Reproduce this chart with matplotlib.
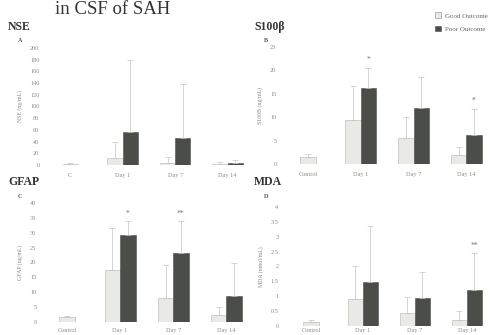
import matplotlib
matplotlib.use('Agg')
import matplotlib.pyplot as plt
from matplotlib.patches import Patch

plt.rcParams['font.family'] = ['Liberation Serif', 'DejaVu Serif']

W, H = 498, 335

days = ['Day 1', 'Day 7', 'Day 14']

# NSE
nse_ctrl, nse_ctrl_sd = 2, 1
nse_good = [12, 3, 2.5]
nse_good_sd = [27, 11, 3]
nse_poor = [56, 46, 3.5]
nse_poor_sd = [124, 92, 5]

# S100b
s100_ctrl, s100_ctrl_sd = 1.5, 0.6
s100_good = [9.5, 5.6, 2.0]
s100_good_sd = [7.2, 4.4, 1.7]
s100_poor = [16.3, 11.9, 6.1]
s100_poor_sd = [4.3, 6.7, 5.7]
s100_stars = {0: '*', 2: '*'}

# GFAP
gfap_ctrl, gfap_ctrl_sd = 1.7, 0.3
gfap_good = [17.5, 8.2, 2.4]
gfap_good_sd = [14.2, 10.8, 2.6]
gfap_poor = [29.4, 23.1, 8.9]
gfap_poor_sd = [4.5, 10.8, 11.0]
gfap_stars = {0: '*', 1: '**'}

# MDA
mda_ctrl, mda_ctrl_sd = 0.15, 0.05
mda_good = [0.91, 0.44, 0.19]
mda_good_sd = [1.1, 0.53, 0.31]
mda_poor = [1.47, 0.94, 1.22]
mda_poor_sd = [1.9, 0.88, 1.22]
mda_stars = {2: '**'}

GOOD = '#e9e9e6'
POOR = '#4b4e48'
EDGE = '#b5b5b0'
ERR = '#c4c4c0'
TXT = '#8a8a86'

fig = plt.figure(figsize=(W / 100, H / 100), dpi=100)


def px_axes(x0, x1, y0, y1):
    # y0 = pixel row of value 0, y1 = pixel row of top tick
    return fig.add_axes([x0 / W, 1 - y0 / H, (x1 - x0) / W, (y0 - y1) / H])


def panel(ax, ctrl, ctrl_sd, good, good_sd, poor, poor_sd, ymax, step,
          ctrl_label, xl, xr, stars, ylabel, fmt, xpad=6):
    w = 0.29
    ax.bar(0, ctrl, w, color=GOOD, edgecolor=EDGE, lw=0.4)
    ax.errorbar(0, ctrl, yerr=[[0], [ctrl_sd]], fmt='none', ecolor=ERR,
                elinewidth=0.5, capsize=2, capthick=0.5)
    xs = [1, 2, 3]
    xg = [x - w / 2 for x in xs]
    xp = [x + w / 2 for x in xs]
    ax.bar(xg, good, w, color=GOOD, edgecolor=EDGE, lw=0.4)
    ax.bar(xp, poor, w, color=POOR, edgecolor=POOR, lw=0.4)
    ax.errorbar(xg, good, yerr=[[0] * 3, good_sd], fmt='none', ecolor=ERR,
                elinewidth=0.5, capsize=2, capthick=0.5)
    ax.errorbar(xp, poor, yerr=[[0] * 3, poor_sd], fmt='none', ecolor=ERR,
                elinewidth=0.5, capsize=2, capthick=0.5)
    for i, s in stars.items():
        ax.text(xp[i], poor[i] + poor_sd[i] + ymax * 0.03, s, ha='center',
                va='bottom', fontsize=5.5, color='#777772')
    ax.set_xlim(xl, xr)
    ax.set_ylim(0, ymax)
    ticks = [step * k for k in range(int(round(ymax / step)) + 1)]
    ax.set_yticks(ticks)
    ax.set_yticklabels([fmt(t) for t in ticks])
    ax.set_xticks([0, 1, 2, 3])
    ax.set_xticklabels([ctrl_label] + days)
    ax.tick_params(length=0, labelsize=4.5, labelcolor=TXT)
    ax.tick_params(axis='x', pad=xpad)
    ax.tick_params(axis='y', pad=4)
    for s in ax.spines.values():
        s.set_visible(False)
    ax.set_ylabel(ylabel, fontsize=4.2, color=TXT, labelpad=5)
    ax.patch.set_alpha(0)


axA = px_axes(45, 245, 165, 48)
panel(axA, nse_ctrl, nse_ctrl_sd, nse_good, nse_good_sd, nse_poor, nse_poor_sd,
      200, 20, 'C', -0.48, 3.33, {}, 'NSE (ng/mL)', lambda t: '%d' % t)

axB = px_axes(282, 498, 164, 47)
panel(axB, s100_ctrl, s100_ctrl_sd, s100_good, s100_good_sd, s100_poor,
      s100_poor_sd, 25, 5, 'Control', -0.49, 3.6, s100_stars, 'S100B (ng/mL)',
      lambda t: '%d' % t)

axC = px_axes(42, 245, 322, 203)
panel(axC, gfap_ctrl, gfap_ctrl_sd, gfap_good, gfap_good_sd, gfap_poor,
      gfap_poor_sd, 40, 5, 'Control', -0.47, 3.35, gfap_stars, 'GFAP (ng/mL)',
      lambda t: '%d' % t, xpad=4)

axD = px_axes(284, 498, 326, 207)
panel(axD, mda_ctrl, mda_ctrl_sd, mda_good, mda_good_sd, mda_poor, mda_poor_sd,
      4, 0.5, 'Control', -0.52, 3.6, mda_stars, 'MDA (nmol/mL)',
      lambda t: ('%g' % t), xpad=1.2)

# headings
fig.text(55 / W, 1 - 10 / H, 'in CSF of SAH', fontsize=13.5, color='#333333',
         va='center', ha='left')
for x, y, name, letter in [(8, 27, 'NSE', 'A'), (254, 27, 'S100β', 'B'),
                           (8, 182, 'GFAP', 'C'), (254, 182, 'MDA', 'D')]:
    fig.text(x / W, 1 - y / H, name, fontsize=8.5, fontweight='bold',
             color='#333333', va='center', ha='left')
    fig.text((x + 10) / W, 1 - (y + 14) / H, letter, fontsize=4.5,
             fontweight='bold', color='#555555', va='center', ha='left')

handles = [Patch(facecolor=GOOD, edgecolor='#888888', lw=0.4, label='Good Outcome'),
           Patch(facecolor=POOR, edgecolor=POOR, lw=0.4, label='Poor Outcome')]
fig.legend(handles=handles, loc='upper left', bbox_to_anchor=(432 / W, 1 - 9 / H),
           frameon=False, fontsize=5, handlelength=0.8, handleheight=0.8,
           labelspacing=1.1, handletextpad=0.5, borderpad=0, labelcolor='#666666')

fig.savefig('out.png', dpi=100)
